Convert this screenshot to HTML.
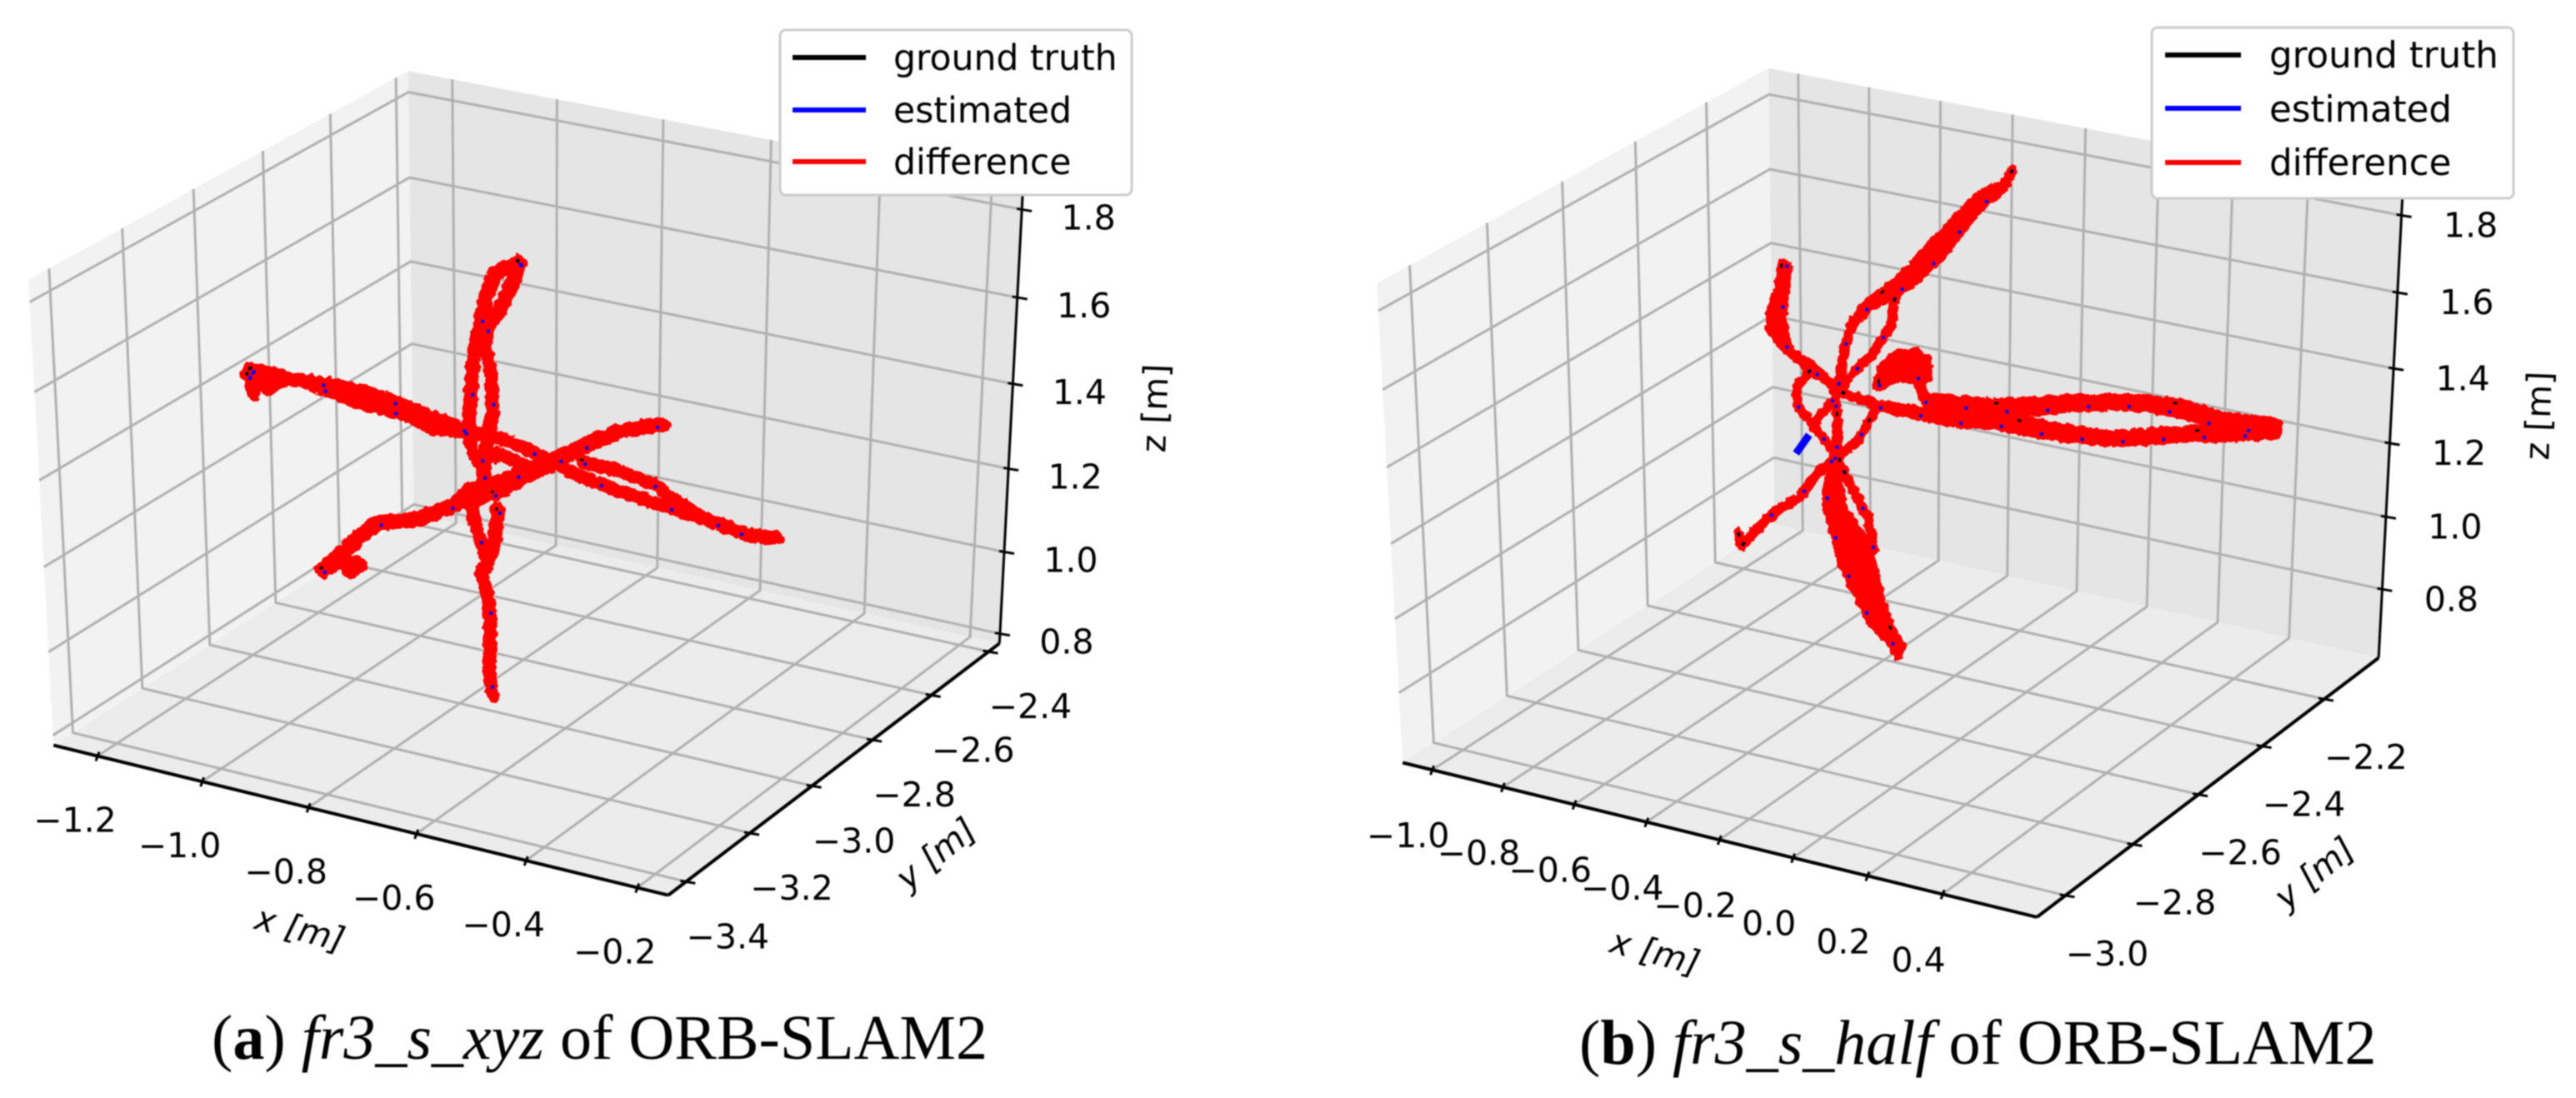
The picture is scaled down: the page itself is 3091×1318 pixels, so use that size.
<!DOCTYPE html>
<html lang="en">
<head>
<meta charset="utf-8">
<title>ORB-SLAM2 trajectories</title>
<style>
html,body{margin:0;padding:0;background:#fff;}
svg{display:block;filter:blur(0.9px);}
.tick{font-family:"DejaVu Sans",sans-serif;font-size:41px;fill:#000;text-anchor:middle;dominant-baseline:central;}
.axis-title{font-family:"DejaVu Sans",sans-serif;font-size:41px;fill:#000;text-anchor:middle;dominant-baseline:central;}
.legend-text{font-family:"DejaVu Sans",sans-serif;font-size:42.5px;fill:#000;}
.caption{font-family:"Liberation Serif",serif;font-size:76px;fill:#000;}
</style>
</head>
<body>
<svg id="figure" width="3091" height="1318" viewBox="0 0 3091 1318">
  <defs>
    <filter id="rough" filterUnits="userSpaceOnUse" x="0" y="0" width="3091" height="1318">
      <feTurbulence type="fractalNoise" baseFrequency="0.14" numOctaves="2" seed="4" result="n"/>
      <feDisplacementMap in="SourceGraphic" in2="n" scale="7" xChannelSelector="R" yChannelSelector="G"/>
    </filter>
  </defs>
  <rect x="0" y="0" width="3091" height="1318" fill="#fff"/>

  <g id="panel-a">
    <g id="plot-a"></g>
    <g>
      <rect x="936" y="36" width="422" height="198" rx="7" fill="#fff" stroke="#cccccc" stroke-width="3"/>
      <line x1="951" x2="1039" y1="69" y2="69" stroke="#000" stroke-width="6"/>
      <line x1="951" x2="1039" y1="132" y2="132" stroke="#0000ff" stroke-width="6"/>
      <line x1="951" x2="1039" y1="194" y2="194" stroke="#ff0000" stroke-width="6"/>
      <text class="legend-text" x="1072" y="84">ground truth</text>
      <text class="legend-text" x="1072" y="147">estimated</text>
      <text class="legend-text" x="1072" y="209">difference</text>
    </g>
    <text class="caption" x="254" y="1271">(<tspan font-weight="bold">a</tspan>) <tspan font-style="italic">fr3_s_xyz</tspan> of ORB-SLAM2</text>
  </g>

  <g id="panel-b">
    <g id="plot-b"></g>
    <g>
      <rect x="2582" y="33" width="434" height="205" rx="7" fill="#fff" stroke="#cccccc" stroke-width="3"/>
      <line x1="2598" x2="2689" y1="66" y2="66" stroke="#000" stroke-width="6"/>
      <line x1="2598" x2="2689" y1="130" y2="130" stroke="#0000ff" stroke-width="6"/>
      <line x1="2598" x2="2689" y1="195" y2="195" stroke="#ff0000" stroke-width="6"/>
      <text class="legend-text" style="font-size:43.5px" x="2723" y="81">ground truth</text>
      <text class="legend-text" style="font-size:43.5px" x="2723" y="146">estimated</text>
      <text class="legend-text" style="font-size:43.5px" x="2723" y="210">difference</text>
    </g>
    <text class="caption" x="1895" y="1277">(<tspan font-weight="bold">b</tspan>) <tspan font-style="italic">fr3_s_half</tspan> of ORB-SLAM2</text>
  </g>
</svg>

<script>
/* ---------- panel (a) data, metres ---------- */
const leftXLim = [-1.285, -0.145];
const leftYLim = [-3.455, -2.362];
const leftZLim = [0.776, 1.849];
const leftXTickLabels = ["−1.2","−1.0","−0.8","−0.6","−0.4","−0.2"];
const leftYTickLabels = ["−3.4","−3.2","−3.0","−2.8","−2.6","−2.4"];
const leftZTickLabels = ["0.8","1.0","1.2","1.4","1.6","1.8"];
const leftGtX = [
  [-.742,-.786,-.803,-.817,-.828,-.835,-.839,-.836,-.826,-.781,-.725],
  [-.742,-.759,-.783,-.804,-.807,-.797,-.794,-.805,-.812,-.809,-.837,-.823,-.806,-.817,-.803,-.800,-.803,-.796],
  [-.784,-.792,-.806],
  [-1.259,-1.187,-1.102,-1.024,-.954,-.891,-.836,-.767,-.698,-.656,-.588,-.492,-.391,-.323,-.273],
  [-1.251,-1.151,-1.046,-.961,-.906,-.843],
  [-.629,-.561,-.493,-.425,-.370],
  [-1.251,-1.249],
  [-1.259,-1.220,-1.187],
  [-.772,-.772,-.772,-.772,-.772,-.772,-.772,-.772,-.772,-.772,-.772,-.772],
  [-.772,-.772,-.772,-.772],
  [-.772,-.772,-.772,-.772]
];
const leftGtY = [
  [-2.909,-2.909,-2.909,-2.909,-2.909,-2.909,-2.909,-2.909,-2.909,-2.909,-2.909],
  [-2.909,-2.909,-2.909,-2.909,-2.909,-2.909,-2.909,-2.909,-2.909,-2.909,-2.909,-2.909,-2.909,-2.909,-2.909,-2.909,-2.909,-2.909],
  [-2.909,-2.909,-2.909],
  [-2.909,-2.909,-2.909,-2.909,-2.909,-2.909,-2.909,-2.909,-2.909,-2.909,-2.909,-2.909,-2.909,-2.909,-2.909],
  [-2.909,-2.909,-2.909,-2.909,-2.909,-2.909],
  [-2.909,-2.909,-2.909,-2.909,-2.909],
  [-2.909,-2.909],
  [-2.909,-2.909,-2.909],
  [-3.449,-3.395,-3.342,-3.288,-3.169,-3.058,-3.013,-2.900,-2.785,-2.667,-2.547,-2.401],
  [-2.946,-2.842,-2.761,-2.608],
  [-3.449,-3.396,-3.338,-3.375]
];
const leftGtZ = [
  [1.783,1.748,1.700,1.623,1.552,1.448,1.385,1.344,1.308,1.335,1.318],
  [1.783,1.725,1.658,1.619,1.578,1.519,1.424,1.359,1.281,1.233,1.204,1.137,1.071,1.040,.987,.894,.798,.753],
  [1.204,1.125,1.071],
  [1.392,1.404,1.412,1.412,1.399,1.384,1.372,1.370,1.350,1.330,1.314,1.299,1.286,1.270,1.280],
  [1.408,1.406,1.385,1.380,1.360,1.370],
  [1.358,1.356,1.340,1.297,1.278],
  [1.408,1.353],
  [1.392,1.371,1.404],
  [1.338,1.346,1.360,1.365,1.315,1.293,1.303,1.274,1.255,1.235,1.215,1.162],
  [1.260,1.254,1.243,1.229],
  [1.338,1.336,1.297,1.299]
];
const leftErrX = 0.006;
const leftErrZ = -0.008;

/* ---------- panel (b) data, metres ---------- */
const rightXLim = [-1.084, 0.648];
const rightYLim = [-3.083, -2.02];
const rightZLim = [0.608, 1.869];
const rightXTickLabels = ["−1.0","−0.8","−0.6","−0.4","−0.2","0.0","0.2","0.4"];
const rightYTickLabels = ["−3.0","−2.8","−2.6","−2.4","−2.2"];
const rightZTickLabels = ["0.8","1.0","1.2","1.4","1.6","1.8"];
const rightGtX = [
  [-.158,-.181,-.248,-.31,-.361,-.424,-.477,-.551,-.594,-.616,-.627,-.638],
  [-.477,-.488,-.541,-.606,-.649,-.704],
  [-.637,-.644,-.669,-.670,-.628,-.559,-.495,-.486,-.493],
  [-.456,-.493,-.494,-.447,-.405,-.384],
  [-.225,-.229,-.214,-.151,-.134,-.116,-.092,-.061,-.070],
  [-.215,-.180,-.149,-.134],
  [-.337,-.305,-.242,-.180,-.129,-.077,-.022,.014,.034],
  [-.347,-.337,-.305],
  [-.424,-.408,-.366,-.324,-.288,-.314,-.292,-.208,-.104,-.001,.102,.204,.306,.407,.508,.648],
  [-.526,-.419,-.313,-.208,-.104,0,.104,.207,.308,.409,.509,.649]
];
const rightGtY = [
  [-2.286,-2.286,-2.286,-2.286,-2.286,-2.286,-2.286,-2.286,-2.286,-2.286,-2.286,-2.286],
  [-2.286,-2.286,-2.286,-2.286,-2.286,-2.286],
  [-2.445,-2.445,-2.445,-2.445,-2.445,-2.445,-2.445,-2.445,-2.445],
  [-2.552,-2.552,-2.552,-2.552,-2.552,-2.552],
  [-2.711,-2.711,-2.711,-2.711,-2.711,-2.711,-2.711,-2.711,-2.711],
  [-2.711,-2.711,-2.711,-2.711],
  [-2.870,-2.870,-2.870,-2.870,-2.870,-2.870,-2.870,-2.870,-2.870],
  [-2.870,-2.870,-2.870],
  [-2.392,-2.392,-2.392,-2.392,-2.392,-2.392,-2.392,-2.392,-2.392,-2.392,-2.392,-2.392,-2.392,-2.392,-2.392,-2.392],
  [-2.392,-2.392,-2.392,-2.392,-2.392,-2.392,-2.392,-2.392,-2.392,-2.392,-2.392,-2.392]
];
const rightGtZ = [
  [1.907,1.865,1.823,1.754,1.689,1.613,1.553,1.487,1.429,1.363,1.302,1.234],
  [1.514,1.436,1.349,1.277,1.207,1.135],
  [1.659,1.591,1.528,1.477,1.439,1.407,1.363,1.276,1.181],
  [1.476,1.426,1.376,1.326,1.284,1.255],
  [1.385,1.310,1.246,1.174,1.103,1.029,.967,.922,.893],
  [1.354,1.294,1.243,1.161],
  [1.227,1.268,1.339,1.385,1.462,1.513,1.566,1.638,1.666],
  [1.259,1.227,1.268],
  [1.356,1.409,1.446,1.459,1.446,1.387,1.345,1.355,1.368,1.393,1.420,1.443,1.462,1.468,1.457,1.471],
  [1.312,1.299,1.306,1.312,1.332,1.338,1.340,1.347,1.375,1.401,1.422,1.460]
];
const rightErrX = [
  [0,0,0,0,0,0,0,0,0,0,0,0],
  [0,0,0,0,0,0],
  [.015,.015,.03,.045,.065,.04,0,0,.004],
  [0,0,0,0,0,0],
  [-.011,-.03,-.046,-.087,-.083,-.06,-.05,-.022,0],
  [0,0,0,0],
  [0,0,0,0,0,0,0,0,0],
  [0,0,0],
  [0,0,0,0,0,0,0,0,0,0,0,0,0,0,0,0],
  [0,0,0,0,0,0,0,0,0,0,0,0]
];
const rightErrZ = [
  [0,-.01,-.03,-.05,-.055,-.045,-.03,-.015,-.01,-.005,0,0],
  [0,0,0,0,0,0],
  [0,0,-.01,-.035,-.045,-.03,0,0,0],
  [0,0,0,0,0,0],
  [0,0,0,0,0,0,0,0,0],
  [0,0,0,0],
  [0,0,0,0,0,0,0,0,0],
  [0,0,0],
  [-.007,-.05,-.06,-.07,-.05,-.007,-.013,-.018,-.022,-.027,-.022,-.018,-.022,-.027,-.031,-.027],
  [0,-.007,-.013,-.018,-.022,-.027,-.022,-.018,-.022,-.018,-.018,-.02]
];
const rightEstTailX = [-.72,-.758];
const rightEstTailY = [-2.286,-2.286];
const rightEstTailZ = [1.095,1.036];

/* ---------- rendering ---------- */
const NS = document.getElementById('figure').namespaceURI;

function mk(tag, attrs, parent){
  const e = document.createElementNS(NS, tag);
  for (const k in attrs) e.setAttribute(k, attrs[k]);
  parent.appendChild(e);
  return e;
}

/* mplot3d camera: elev 30, azim -60, dist 10 */
function makeProjector(xLim, yLim, zLim, view){
  return function(x, y, z){
    const dx = (x - xLim[0]) / (xLim[1] - xLim[0]) - 0.5;
    const dy = (y - yLim[0]) / (yLim[1] - yLim[0]) - 0.5;
    const dz = (z - zLim[0]) / (zLim[1] - zLim[0]) - 0.5;
    const xc = 0.866025 * dx + 0.5 * dy;
    const yc = -0.25 * dx + 0.433013 * dy + 0.866025 * dz;
    const w = 10 - (0.433013 * dx - 0.75 * dy + 0.5 * dz);
    return [view.x0 + view.sx * xc / w, view.y0 - view.sy * yc / w];
  };
}

function str(pts){
  return pts.map(function(p){ return p[0].toFixed(1) + ',' + p[1].toFixed(1); }).join(' ');
}

function tickVal(label){
  return Number(label.replace('−', '-'));
}

function drawPanel(rootId, xLim, yLim, zLim, xLabels, yLabels, zLabels, gtX, gtY, gtZ, errX, errZ, view){
  const root = document.getElementById(rootId);
  const P = makeProjector(xLim, yLim, zLim, view);
  const x0 = xLim[0], x1 = xLim[1], y0 = yLim[0], y1 = yLim[1], z0 = zLim[0], z1 = zLim[1];

  const paneLeft = mk('polygon', {fill:'#f2f2f2', points:str([P(x0,y0,z0),P(x0,y1,z0),P(x0,y1,z1),P(x0,y0,z1)])}, root);
  
  
  const paneBack = mk('polygon', {fill:'#e5e5e5', points:str([P(x0,y1,z0),P(x1,y1,z0),P(x1,y1,z1),P(x0,y1,z1)])}, root);
  
  
  const paneFloor = mk('polygon', {fill:'#ececec', points:str([P(x0,y0,z0),P(x1,y0,z0),P(x1,y1,z0),P(x0,y1,z0)])}, root);
  
  

  const gridStyle = {fill:'none', stroke:'#b0b0b0', 'stroke-width':'3', 'stroke-linejoin':'round'};
  xLabels.forEach(function(l){
    const v = tickVal(l);
    const g = mk('polyline', Object.assign({points:str([P(v,y0,z0),P(v,y1,z0),P(v,y1,z1)])}, gridStyle), root);
    
    
  });
  yLabels.forEach(function(l){
    const v = tickVal(l);
    const g = mk('polyline', Object.assign({points:str([P(x1,v,z0),P(x0,v,z0),P(x0,v,z1)])}, gridStyle), root);
    
    
  });
  zLabels.forEach(function(l){
    const v = tickVal(l);
    const g = mk('polyline', Object.assign({points:str([P(x0,y0,v),P(x0,y1,v),P(x1,y1,v)])}, gridStyle), root);
    
    
  });

  const xAxis = mk('polyline', {fill:'none', stroke:'#000', 'stroke-width':'4', points:str([P(x0,y0,z0),P(x1,y0,z0)])}, root);
  
  
  const yAxis = mk('polyline', {fill:'none', stroke:'#000', 'stroke-width':'4', points:str([P(x1,y0,z0),P(x1,y1,z0)])}, root);
  
  
  const zAxis = mk('polyline', {fill:'none', stroke:'#000', 'stroke-width':'3', points:str([P(x1,y1,z0),P(x1,y1,z1)])}, root);
  
  

  function tickMark(p, a, b, name){
    const t = mk('line', {x1:p[0]+a[0], y1:p[1]+a[1], x2:p[0]+b[0], y2:p[1]+b[1], stroke:'#000', 'stroke-width':'3'}, root);
    
    
  }
  function tickText(p, off, label, name){
    const t = mk('text', {'class':'tick', x:p[0]+off[0], y:p[1]+off[1]}, root);
    t.textContent = label;
    
    
  }
  xLabels.forEach(function(l){
    const p = P(tickVal(l), y0, z0);
    tickMark(p, [2,-5], [-2,6], 'x-tick');
    tickText(p, view.xOff, l, 'x-tick-label');
  });
  yLabels.forEach(function(l){
    const p = P(x1, tickVal(l), z0);
    tickMark(p, [-7,-1], [11,2], 'y-tick');
    tickText(p, view.yOff, l, 'y-tick-label');
  });
  zLabels.forEach(function(l){
    const p = P(x1, y1, tickVal(l));
    tickMark(p, [-6,-1], [12,2], 'z-tick');
    tickText(p, view.zOff, l, 'z-tick-label');
  });

  const xTitle = mk('text', {'class':'axis-title', 'font-style':'italic', transform:'translate(' + view.xTitle[0] + ' ' + view.xTitle[1] + ') rotate(15)'}, root);
  xTitle.textContent = 'x [m]';
  
  
  const yTitle = mk('text', {'class':'axis-title', 'font-style':'italic', transform:'translate(' + view.yTitle[0] + ' ' + view.yTitle[1] + ') rotate(-39)'}, root);
  yTitle.textContent = 'y [m]';
  
  
  const zTitle = mk('text', {'class':'axis-title', transform:'translate(' + view.zTitle[0] + ' ' + view.zTitle[1] + ') rotate(-88)'}, root);
  zTitle.textContent = 'z [m]';
  
  

  /* series */
  function errAt(e, s, i){ return Array.isArray(e) ? e[s][i] : e; }
  const gtStrokes = [], estStrokes = [];
  gtX.forEach(function(xs, s){
    gtStrokes.push(xs.map(function(v, i){ return P(v, gtY[s][i], gtZ[s][i]); }));
    estStrokes.push(xs.map(function(v, i){ return P(v + errAt(errX,s,i), gtY[s][i], gtZ[s][i] + errAt(errZ,s,i)); }));
  });

  const under = mk('g', {}, root);
  
  
  gtStrokes.forEach(function(pts){
    const l = mk('polyline', {fill:'none', stroke:'#000', 'stroke-width':'4', points:str(pts)}, under);
    
    
  });
  estStrokes.forEach(function(pts){
    const l = mk('polyline', {fill:'none', stroke:'#0000ff', 'stroke-width':'4', points:str(pts)}, under);
    
    
  });

  const red = mk('g', {filter:'url(#rough)', fill:'#ff0000', stroke:'#ff0000', 'stroke-width':String(view.sw), 'stroke-linejoin':'round'}, root);
  
  
  gtStrokes.forEach(function(pts, s){
    for (let i = 0; i < pts.length - 1; i++){
      const q = mk('polygon', {points:str([pts[i], estStrokes[s][i], estStrokes[s][i+1], pts[i+1]])}, red);
      
      
    }
  });

  estStrokes.forEach(function(pts){
    const l = mk('polyline', {fill:'none', stroke:'#0000ff', 'stroke-width':'4', 'stroke-dasharray':view.blueDash, points:str(pts)}, root);
    
    
  });
  gtStrokes.forEach(function(pts){
    const l = mk('polyline', {fill:'none', stroke:'#000', 'stroke-width':'3', 'stroke-dasharray':view.blackDash, points:str(pts)}, root);
    
    
  });
  return P;
}

drawPanel('plot-a', leftXLim, leftYLim, leftZLim, leftXTickLabels, leftYTickLabels, leftZTickLabels,
  leftGtX, leftGtY, leftGtZ, leftErrX, leftErrZ,
  {x0:640.5, y0:563, sx:8515, sy:6380, sw:13,
   xOff:[-27,77], yOff:[50,66], zOff:[80,10],
   xTitle:[360,1115], yTitle:[1123,1025], zTitle:[1386,490],
   blueDash:'4 85', blackDash:'4 900'});

const projB = drawPanel('plot-b', rightXLim, rightYLim, rightZLim, rightXTickLabels, rightYTickLabels, rightZTickLabels,
  rightGtX, rightGtY, rightGtZ, rightErrX, rightErrZ,
  {x0:2277.7, y0:574, sx:8785, sy:6570, sw:12,
   xOff:[-29,79], yOff:[50,70], zOff:[83,12],
   xTitle:[1986,1143], yTitle:[2777,1048], zTitle:[3046,499],
   blueDash:'4 45', blackDash:'5 210'});

const tail = mk('polyline', {fill:'none', stroke:'#0000ff', 'stroke-width':'9',
  points:str(rightEstTailX.map(function(v, i){ return projB(v, rightEstTailY[i], rightEstTailZ[i]); }))},
  document.getElementById('plot-b'));


</script>
</body>
</html>
